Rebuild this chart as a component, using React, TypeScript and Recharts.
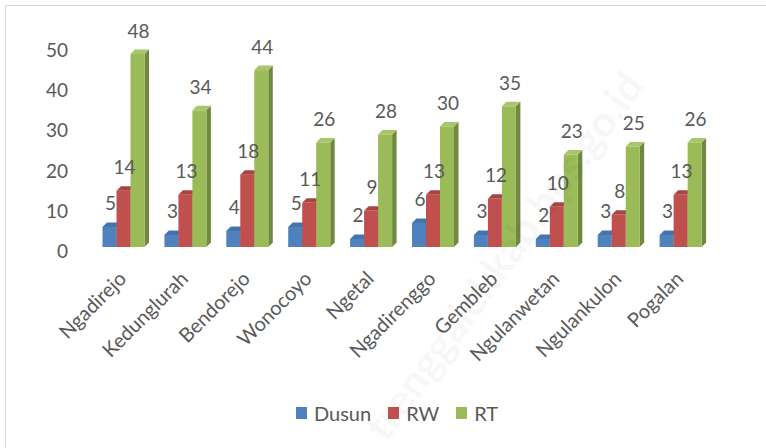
import React from 'react';
import { BarChart, Bar, XAxis, YAxis, Legend, LabelList } from 'recharts';

const categories = ['Ngadirejo', 'Kedunglurah', 'Bendorejo', 'Wonocoyo', 'Ngetal', 'Ngadirenggo', 'Gembleb', 'Ngulanwetan', 'Ngulankulon', 'Pogalan'];
const dusun = [5, 3, 4, 5, 2, 6, 3, 2, 3, 3];
const rw = [14, 13, 18, 11, 9, 13, 12, 10, 8, 13];
const rt = [48, 34, 44, 26, 28, 30, 35, 23, 25, 26];
const yTicks = [0, 10, 20, 30, 40, 50];
const seriesNames = ['Dusun', 'RW', 'RT'];

const data = categories.map((name, i) => ({ name, Dusun: dusun[i], RW: rw[i], RT: rt[i] }));

const FONT = 'Lato, "Open Sans", sans-serif';
const TEXT = '#595959';
const D = 4.5;

type Shade = { front: string; top: string; side: string };
const palette: Record<string, Shade> = {
  Dusun: { front: '#4F81BD', top: '#4474AE', side: '#385D8A' },
  RW: { front: '#C0504D', top: '#A84542', side: '#8C3836' },
  RT: { front: '#9BBB59', top: '#A8C66A', side: '#71893F' },
};

function make3D(c: Shade) {
  return (props: any) => {
    const { x, y, width, height } = props;
    if (!(height > 0)) return <g />;
    return (
      <g>
        <path d={`M${x + width},${y} L${x + width + D},${y - D} L${x + width + D},${y + height - D} L${x + width},${y + height} Z`} fill={c.side} />
        <path d={`M${x},${y} L${x + D},${y - D} L${x + width + D},${y - D} L${x + width},${y} Z`} fill={c.top} />
        <rect x={x} y={y} width={width} height={height} fill={c.front} />
      </g>
    );
  };
}

const ValueLabel = (props: any) => {
  const { x, y, width, value } = props;
  return (
    <text x={x + width / 2 + 1} y={y - 16.5} textAnchor="middle" fill={TEXT} fontSize={19} fontFamily={FONT}>
      {value}
    </text>
  );
};

const YTick = (props: any) => {
  const { x, y, payload } = props;
  return (
    <text x={x} y={y + 11} textAnchor="end" fill={TEXT} fontSize={19} fontFamily={FONT}>
      {payload.value}
    </text>
  );
};

const XTick = (props: any) => {
  const { x, y, payload } = props;
  const ax = x + 4;
  const ay = y + 33;
  return (
    <text x={ax} y={ay} textAnchor="end" fill={TEXT} fontSize={20} fontFamily={FONT} transform={`rotate(-45 ${ax} ${ay})`}>
      {payload.value}
    </text>
  );
};

const LegendContent = () => (
  <div style={{ height: 30, display: 'flex', justifyContent: 'center', alignItems: 'center', paddingLeft: 28, fontFamily: FONT, fontSize: 20, color: TEXT }}>
    {seriesNames.map((s, i) => (
      <div key={s} style={{ display: 'flex', alignItems: 'center', marginLeft: i === 0 ? 0 : 17 }}>
        <div style={{ width: 11, height: 12, background: palette[s].front, marginRight: 7 }} />
        <span>{s}</span>
      </div>
    ))}
  </div>
);

export default function App() {
  return (
    <div style={{ position: 'absolute', left: 0, top: 0, width: 766, height: 448, background: '#fff', overflow: 'hidden' }}>
      <div style={{ position: 'absolute', left: 5, top: 5, width: 800, height: 500, borderTop: '1px solid #d9d9d9', borderLeft: '1px solid #d9d9d9' }} />
      <BarChart
        width={766}
        height={448}
        data={data}
        margin={{ top: 46, right: 54.5, left: 32.5, bottom: 20 }}
        barCategoryGap={10}
        barGap={0}
      >
        <XAxis dataKey="name" axisLine={false} tickLine={false} tickSize={0} tickMargin={0} interval={0} height={151} tick={<XTick />} />
        <YAxis domain={[0, 50]} ticks={yTicks} axisLine={false} tickLine={false} tickSize={0} tickMargin={24.5} width={60} tick={<YTick />} />
        <Legend verticalAlign="bottom" content={<LegendContent />} wrapperStyle={{ left: 0, width: 766 }} />
        {seriesNames.map((s) => (
          <Bar key={s} dataKey={s} name={s} fill={palette[s].front} shape={make3D(palette[s])} isAnimationActive={false}>
            <LabelList dataKey={s} content={<ValueLabel />} />
          </Bar>
        ))}
      </BarChart>
      <svg width={766} height={448} style={{ position: 'absolute', left: 0, top: 0, pointerEvents: 'none' }}>
        <text x={646} y={86} textAnchor="end" fontSize={42} fontWeight="bold" fontFamily={FONT} fill="rgba(0,0,0,0.055)" transform="rotate(-54 646 86)">
          trenggalekkab.bps.go.id
        </text>
      </svg>
    </div>
  );
}
